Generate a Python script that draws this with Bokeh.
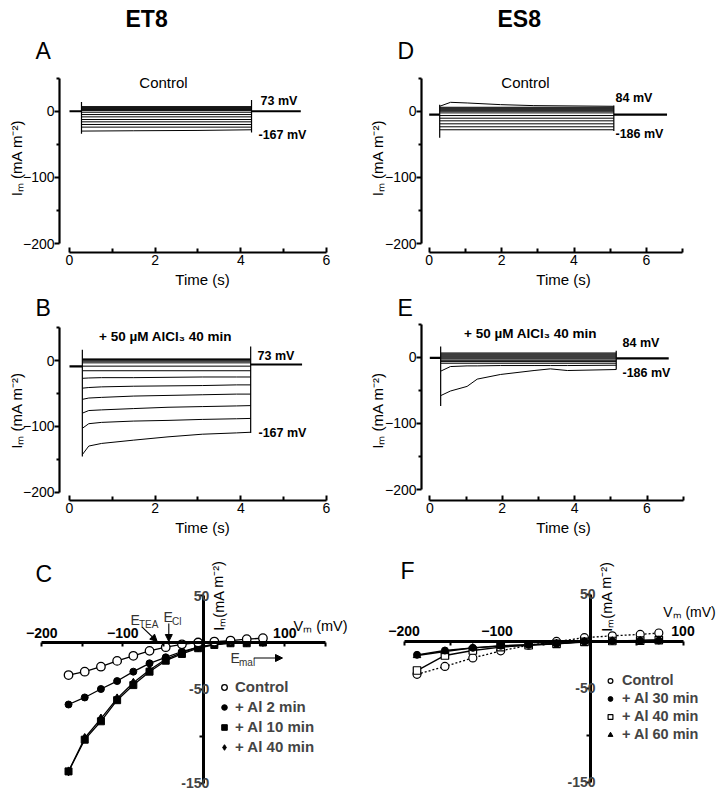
from bokeh.plotting import figure
from bokeh.layouts import column, row
from bokeh.models import (LinearAxis, FixedTicker, Label, Arrow, NormalHead,
                          Legend, LegendItem, Range1d, Title)
from bokeh.embed import file_html
from bokeh.resources import INLINE

FONT = "Liberation Sans"

# ======================= DATA =======================
# --- Panel A: ET8 control current traces (mA m-2), steps -167 ... 73 mV
A_hold_t = [0.0, 0.28, 4.25, 5.4]          # hold start, step on, step off, end (s)
A_hold_i = [0.0, 0.0]                       # holding current before / after
A_levels = [7, 5.5, 4, 2.5, 1, -1.5, -5, -8.5, -12.5, -16, -20, -24]
A_decay_t = [0.28, 1.5, 3.0, 4.25]
A_decay = [[-30, -29.5, -29, -28]]
A_spike_top = [14, 17]
A_spike_bot = [-34, -32]

# --- Panel B: ET8 + 50 uM AlCl3 40 min
B_hold_t = [0.0, 0.3, 4.23, 5.43]
B_hold_i = [-9, -6]
B_levels = [2.5, 1.5, 0.5, -1, -3.5, -8.5, -15.5]
B_decay_t = [0.3, 0.45, 0.75, 1.5, 2.3, 3.1, 3.9, 4.23]
B_decay = [
    [-143, -130, -126, -121, -116, -112, -110, -109],
    [-103, -96, -94, -92, -91, -89.5, -88.5, -88],
    [-80, -76, -75, -73, -71, -70, -69, -68.5],
    [-59, -57, -56, -54, -53, -52, -51, -51],
    [-42, -41, -40, -39, -38.5, -38, -37, -37],
    [-27, -26.5, -26, -26, -25.5, -25, -25, -25],
]
B_spike_top = [16.5, 21.5]
B_spike_bot = [-146, -110]

# --- Panel D: ES8 control, steps -186 ... 84 mV
D_hold_t = [0.0, 0.29, 5.1, 6.57]
D_hold_i = [-5, -5]
D_levels = [6, 4.5, 3, 1.5, 0, -2.5, -6.5, -10.5, -14.5, -19, -23.5, -28]
D_decay_t = [0.29, 0.59, 1.05, 1.97, 2.89, 5.1]
D_decay = [[7.5, 13.5, 12.5, 10, 8.5, 7.5]]
D_spike_top = [10, 8.5]
D_spike_bot = [-40, -30]

# --- Panel E: ES8 + 50 uM AlCl3 40 min
E_hold_t = [0.0, 0.3, 5.15, 6.6]
E_hold_i = [-1, -1.5]
E_levels = [6.5, 5, 3.5, 2, 0.5, -1, -2.5, -4.5, -6.5, -9]
E_decay_t = [0.3, 0.57, 1.03, 1.31, 1.95, 2.88, 3.33, 3.8, 5.15]
E_decay = [
    [-58, -51, -44, -33, -26, -20, -17.5, -20, -18.5],
    [-21, -14, -13, -13, -12.5, -12.5, -12.5, -12.5, -12],
]
E_spike_top = [16.5, 10]
E_spike_bot = [-73.5, -18.5]

# --- Panel C: ET8 I-V relations
C_V = [-167, -147, -127, -107, -87, -67, -47, -27, -7, 13, 33, 53, 73]
C_control = [-34.7, -31.1, -25.8, -19.6, -14.2, -8.9, -5.0, -1.9, 0.0, 1.0, 2.1, 3.5, 4.6]
C_al2 = [-66.1, -58.6, -49.6, -41.1, -31.1, -22.2, -15.8, -9.6, -5.0, -1.9, 0.0, 0.3, 0.6]
C_al10 = [-137.4, -103.6, -84.0, -61.5, -45.4, -31.1, -19.4, -12.2, -6.1, -2.6, -0.8, -0.8, 0.0]
C_al40 = [-137.4, -101.8, -81.1, -59.6, -43.0, -29.4, -17.9, -10.8, -5.0, -1.9, 0.0, 0.3, 0.6]

# --- Panel F: ES8 I-V relations
F_V = [-186, -156, -126, -96, -66, -36, -6, 24, 54, 74]
F_control = [-35.5, -27, -18, -10.5, -4.5, -0.5, 3.5, 5.5, 7, 8.5]
F_al30 = [-14.7, -10.1, -7.3, -5.1, -4.1, -3.0, -0.5, 0.0, 0.3, 0.5]
F_al40 = [-31.4, -15.4, -10.1, -6.5, -4.5, -3.0, -1.0, 0.0, 0.5, 1.0]
F_al60 = [-15.4, -11.2, -7.3, -5.5, -4.0, -2.5, -0.5, 0.0, 0.5, 0.8]

# ticks / labels
TIME_TICKS = [0, 2, 4, 6]
A_TIME_MINOR = [1, 3, 5]
D_TIME_MINOR = [1, 3, 5, 7]
I_TICKS = [0, -100, -200]
I_MINOR = [50, -50, -150]
IV_V_TICKS = [-200, -100, 100]
C_V_MINOR = [-150, -50, 0, 50, 150]
F_V_MINOR = [-150, -50, 0, 50]
IV_I_TICKS = [50, -50, -150]
IV_I_MINOR = [0, -100]
I_LABEL = "I\u2098 (mA m\u207b\u00b2)"
I_LABEL2 = "I\u2098(mA m\u207b\u00b2)"
V_LABEL = "V\u2098 (mV)"


# ======================= HELPERS =======================
def frame_fig(cx, cy, W, H, fl, ft, fr, fb, x0, sx, y0, sy):
    p = figure(width=W, height=H, title=None,
               x_range=Range1d((fl - x0) / sx, (fr - x0) / sx),
               y_range=Range1d((y0 - fb) / sy, (y0 - ft) / sy),
               output_backend="svg", toolbar_location=None,
               x_axis_location=None, y_axis_location=None,
               min_border_left=fl - cx, min_border_right=cx + W - fr,
               min_border_top=ft - cy, min_border_bottom=cy + H - fb)
    p.outline_line_color = None
    p.background_fill_color = "white"
    p.border_fill_color = "white"
    p.xgrid.visible = False
    p.ygrid.visible = False

    def d(px, py):
        return (px - x0) / sx, (y0 - py) / sy
    return p, d


def lab(p, d, px, py, text, size, bold=False, align="left", baseline="middle",
        angle=0.0, color="black"):
    x, y = d(px, py)
    p.add_layout(Label(x=x, y=y, text=text, text_font=FONT,
                       text_font_size=f"{size}px",
                       text_font_style="bold" if bold else "normal",
                       text_align=align, text_baseline=baseline,
                       angle=angle, text_color=color))


def add_title(p, text, offset, size=23, bold=False, standoff=0):
    p.add_layout(Title(text=text, align="left", offset=offset, standoff=standoff,
                       text_font=FONT, text_font_size=f"{size}px",
                       text_font_style="bold" if bold else "normal",
                       text_color="black"), "above")


def style_axis(ax, bold=False, lw=2.2):
    ax.axis_line_width = lw
    ax.axis_line_color = "black"
    ax.major_tick_line_width = 2
    ax.minor_tick_line_width = 2
    ax.major_tick_line_color = "black"
    ax.minor_tick_line_color = "black"
    ax.major_label_text_font = FONT
    ax.major_label_text_font_size = "14px"
    ax.major_label_text_color = "black"
    ax.major_label_text_font_style = "bold" if bold else "normal"
    ax.axis_label_text_font = FONT
    ax.axis_label_text_font_size = "15px"
    ax.axis_label_text_font_style = "normal"
    ax.axis_label_text_color = "black"


def trace_axes(p, xmax, minor, ylab_standoff):
    xa = LinearAxis(bounds=(0, xmax),
                    ticker=FixedTicker(ticks=TIME_TICKS, minor_ticks=minor),
                    axis_label="Time (s)")
    style_axis(xa)
    xa.major_tick_in, xa.major_tick_out = 5, 0
    xa.minor_tick_in, xa.minor_tick_out = 4, 0
    xa.major_label_standoff = 2
    xa.axis_label_standoff = 3
    p.add_layout(xa, "below")
    ya = LinearAxis(bounds=(-200, 50),
                    ticker=FixedTicker(ticks=I_TICKS, minor_ticks=I_MINOR),
                    axis_label=I_LABEL)
    style_axis(ya)
    ya.major_tick_in, ya.major_tick_out = 0, 5
    ya.minor_tick_in, ya.minor_tick_out = 0, 3
    ya.major_label_standoff = 0
    ya.axis_label_standoff = ylab_standoff
    p.add_layout(ya, "left")


def draw_traces(p, hold_t, hold_i, levels, decay_t, decay, spike_top, spike_bot):
    t0, t_on, t_off, t_end = hold_t
    p.multi_line([[t_on, t_off] for _ in levels], [[v, v] for v in levels],
                 line_color="black", line_width=1.0)
    p.multi_line([decay_t for _ in decay], decay, line_color="black", line_width=1.0)
    p.multi_line([[t0, t_on], [t_off, t_end]],
                 [[hold_i[0], hold_i[0]], [hold_i[1], hold_i[1]]],
                 line_color="black", line_width=2.2)
    p.segment(x0=[t_on, t_off], y0=spike_top, x1=[t_on, t_off], y1=spike_bot,
              line_color="black", line_width=1.2)


def iv_axes(p, d, vbounds, vminor):
    xa = LinearAxis(fixed_location=0, bounds=vbounds,
                    ticker=FixedTicker(ticks=IV_V_TICKS, minor_ticks=vminor))
    style_axis(xa, bold=True, lw=3)
    xa.major_tick_in, xa.major_tick_out = 4, 0
    xa.minor_tick_in, xa.minor_tick_out = 4, 0
    xa.major_label_standoff = 5
    p.add_layout(xa, "above")
    ya = LinearAxis(fixed_location=0, bounds=(-150, 50),
                    ticker=FixedTicker(ticks=IV_I_TICKS, minor_ticks=IV_I_MINOR),
                    major_label_overrides={v: "" for v in IV_I_TICKS})
    style_axis(ya, bold=True, lw=3)
    ya.major_tick_in, ya.major_tick_out = 0, 4
    ya.minor_tick_in, ya.minor_tick_out = 0, 4
    ya.major_label_standoff = 0
    p.add_layout(ya, "left")
    # current tick labels, drawn left of the crossing axis
    dx = d(0, 0)[0] - d(5.5, 0)[0]
    for v in IV_I_TICKS:
        p.add_layout(Label(x=-dx, y=v, text=str(v), text_font=FONT,
                           text_font_size="14px", text_font_style="bold",
                           text_align="right", text_baseline="middle"))


# ======================= PANEL A =======================
pA, dA = frame_fig(0, 0, 362, 292, 59, 62, 345, 252, 69, 42.83, 110, 0.665)
trace_axes(pA, 6, A_TIME_MINOR, -5)
draw_traces(pA, A_hold_t, A_hold_i, A_levels, A_decay_t, A_decay, A_spike_top, A_spike_bot)
add_title(pA, "A", -24)
add_title(pA, "ET8", 66, bold=True, standoff=7)
lab(pA, dA, 163, 81, "Control", 15, align="center")
lab(pA, dA, 260, 100, "73 mV", 12.5, bold=True)
lab(pA, dA, 258, 134, "-167 mV", 12.5, bold=True)

# ======================= PANEL B =======================
pB, dB = frame_fig(0, 292, 362, 248, 59, 319, 345, 501, 69, 42.83, 359.5, 0.665)
trace_axes(pB, 6, A_TIME_MINOR, -5)
draw_traces(pB, B_hold_t, B_hold_i, B_levels, B_decay_t, B_decay, B_spike_top, B_spike_bot)
add_title(pB, "B", -24)
lab(pB, dB, 165, 335, "+ 50 \u00b5M AlCl\u2083 40 min", 13.5, bold=True, align="center")
lab(pB, dB, 257, 355, "73 mV", 12.5, bold=True)
lab(pB, dB, 258, 433, "-167 mV", 12.5, bold=True)

# ======================= PANEL D =======================
pD, dD = frame_fig(362, 0, 361, 292, 421, 62, 705, 252, 428.7, 36.2, 110, 0.665)
trace_axes(pD, 7, D_TIME_MINOR, -4)
draw_traces(pD, D_hold_t, D_hold_i, D_levels, D_decay_t, D_decay, D_spike_top, D_spike_bot)
add_title(pD, "D", -24)
add_title(pD, "ES8", 76, bold=True, standoff=7)
lab(pD, dD, 525, 81, "Control", 15, align="center")
lab(pD, dD, 615, 97, "84 mV", 12.5, bold=True)
lab(pD, dD, 615, 133, "-186 mV", 12.5, bold=True)

# ======================= PANEL E =======================
pE, dE = frame_fig(362, 292, 361, 248, 421, 319, 705, 500, 429.3, 36.2, 356, 0.665)
trace_axes(pE, 7, D_TIME_MINOR, -4)
draw_traces(pE, E_hold_t, E_hold_i, E_levels, E_decay_t, E_decay, E_spike_top, E_spike_bot)
add_title(pE, "E", -24)
lab(pE, dE, 530, 332, "+ 50 \u00b5M AlCl\u2083 40 min", 13.5, bold=True, align="center")
lab(pE, dE, 622, 342, "84 mV", 12.5, bold=True)
lab(pE, dE, 622, 372, "-186 mV", 12.5, bold=True)

# ======================= PANEL C =======================
pC, dC = frame_fig(0, 540, 362, 252, 14, 561, 357, 791, 203.3, 0.81, 642, 0.938)
iv_axes(pC, dC, (-200, 150), C_V_MINOR)
for ys in (C_al10, C_al40, C_al2, C_control):
    pC.line(C_V, ys, line_color="black", line_width=1.3)
rC10 = pC.scatter(C_V, C_al10, marker="square", size=7, fill_color="black", line_color="black")
rC40 = pC.scatter(C_V, C_al40, marker="diamond", size=9, fill_color="black", line_color="black")
rC2 = pC.scatter(C_V, C_al2, marker="circle", size=7, fill_color="black", line_color="black")
rCc = pC.scatter(C_V, C_control, marker="circle", size=8.5, fill_color="white",
                 line_color="black", line_width=1.3)
legC = Legend(items=[LegendItem(label="Control", renderers=[rCc]),
                     LegendItem(label="+ Al 2 min", renderers=[rC2]),
                     LegendItem(label="+ Al 10 min", renderers=[rC10]),
                     LegendItem(label="+ Al 40 min", renderers=[rC40])],
              location=(203, 36), border_line_color=None, background_fill_alpha=0,
              padding=0, margin=0, spacing=3, glyph_width=14, glyph_height=16,
              label_height=16, label_standoff=4, label_text_font=FONT,
              label_text_font_size="15px", label_text_font_style="bold")
pC.add_layout(legC)
lab(pC, dC, 35, 573, "C", 23)
lab(pC, dC, 218, 595, I_LABEL2, 14.5, align="center", angle=1.5708)
lab(pC, dC, 320, 625, V_LABEL, 14.5, align="center")
# reversal-potential markers
lab(pC, dC, 130, 619, "E", 14, color="#333333")
lab(pC, dC, 138.5, 623.5, "TEA", 10, color="#333333")
lab(pC, dC, 163, 616, "E", 14, color="#333333")
lab(pC, dC, 171.5, 620.5, "Cl", 10, color="#333333")
lab(pC, dC, 230, 657, "E", 14, color="#333333")
lab(pC, dC, 238.5, 661.5, "mal", 10, color="#333333")
for (xs, ys, xe, ye) in [(141.7, 626.7, 156.7, 641), (168.3, 623, 168.3, 641),
                         (253.3, 657.5, 282, 657.5)]:
    x_s, y_s = dC(xs, ys)
    x_e, y_e = dC(xe, ye)
    pC.add_layout(Arrow(end=NormalHead(size=7, fill_color="black", line_color="black"),
                        x_start=x_s, y_start=y_s, x_end=x_e, y_end=y_e,
                        line_color="black", line_width=1.1))

# ======================= PANEL F =======================
pF, dF = frame_fig(362, 540, 361, 252, 375, 561, 723, 791, 589.5, 0.93, 640.5, 0.94)
iv_axes(pF, dF, (-200, 100), F_V_MINOR)
pF.line(F_V, F_control, line_color="black", line_width=1.3, line_dash="2 2")
for ys in (F_al40, F_al30, F_al60):
    pF.line(F_V, ys, line_color="black", line_width=1.4)
rFc = pF.scatter(F_V, F_control, marker="circle", size=8, fill_color="white",
                 line_color="black", line_width=1.2)
rF40 = pF.scatter(F_V, F_al40, marker="square", size=7.5, fill_color="white",
                  line_color="black", line_width=1.2)
rF30 = pF.scatter(F_V, F_al30, marker="circle", size=7, fill_color="black", line_color="black")
rF60 = pF.scatter(F_V, F_al60, marker="triangle", size=7.5, fill_color="black", line_color="black")
legF = Legend(items=[LegendItem(label="Control", renderers=[rFc]),
                     LegendItem(label="+ Al 30 min", renderers=[rF30]),
                     LegendItem(label="+ Al 40 min", renderers=[rF40]),
                     LegendItem(label="+ Al 60 min", renderers=[rF60])],
              location=(229, 49), border_line_color=None, background_fill_alpha=0,
              padding=0, margin=0, spacing=2, glyph_width=12, glyph_height=15,
              label_height=15, label_standoff=6, label_text_font=FONT,
              label_text_font_size="14.5px", label_text_font_style="bold")
pF.add_layout(legF)
lab(pF, dF, 400, 570, "F", 23)
lab(pF, dF, 606, 596, I_LABEL2, 14.5, align="center", angle=1.5708)
lab(pF, dF, 689, 611, V_LABEL, 14, align="center")

layout = column(row(pA, pD), row(pB, pE), row(pC, pF))
open("out.html", "w").write(file_html(layout, INLINE))
